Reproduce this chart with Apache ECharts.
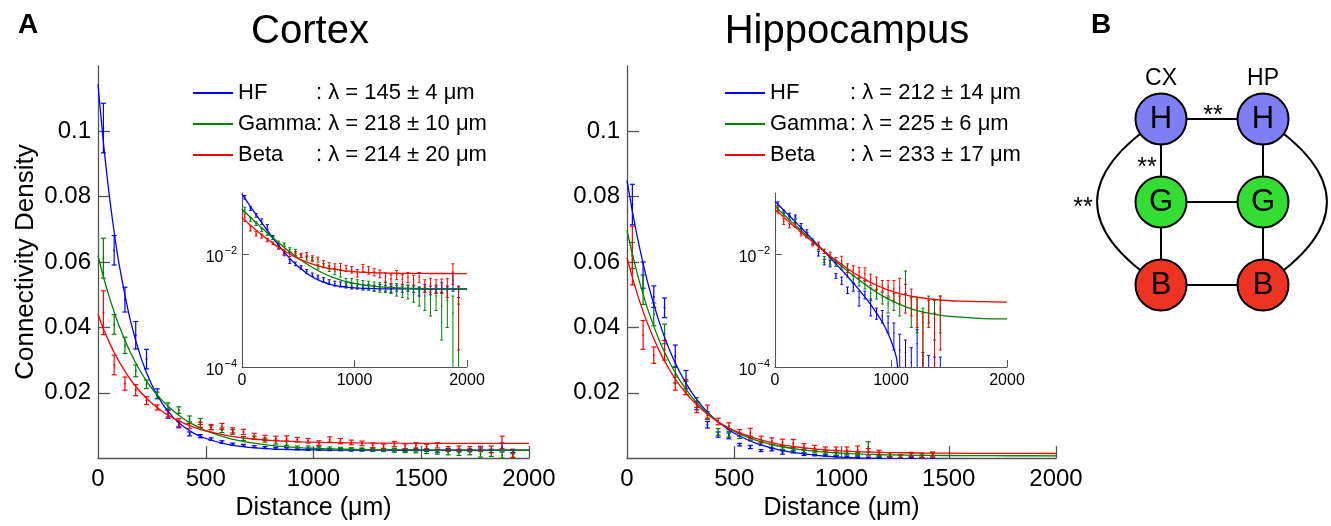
<!DOCTYPE html>
<html>
<head>
<meta charset="utf-8">
<script src="https://cdn.jsdelivr.net/npm/echarts@6/dist/echarts.min.js"></script>
<style>html,body{margin:0;padding:0;background:#fff}#chart{width:1331px;height:526px}</style>
</head>
<body>
<div id="chart"></div>
<script>
// ---- data ----
var names = ['HF', 'Gamma', 'Beta'];
var cxLambda = [145, 218, 214], cxLambdaErr = [4, 10, 20];
var hpLambda = [212, 225, 233], hpLambdaErr = [14, 6, 17];

// fitted curves (sampled)
var fitX = [0, 25, 50, 75, 100, 150, 200, 250, 300, 350, 400, 450, 500, 600, 700, 800, 900, 950, 1000, 1050, 1100, 1200, 1400, 1600, 1800, 2000];
var cxFitHF = [.1144, .0967, .0817, .0692, .0586, .0422, .0306, .0224, .0165, .0124, .0095, .0074, .0060, .0042, .0033, .00285, .00263, .00256, .00251, .00248, .00246, .00243, .00241, .0024, .0024, .0024];
var cxFitGamma = [.0620, .0555, .0498, .0447, .0401, .0324, .0262, .0213, .0175, .0144, .0119, .0100, .0084, .0062, .0048, .0039, .00336, .00316, .00301, .00288, .00278, .00264, .0025, .00244, .00242, .0024];
var cxFitBeta = [.0440, .0396, .0358, .0323, .0293, .0241, .0200, .0168, .0142, .0122, .0106, .0093, .0083, .0069, .0060, .00544, .00509, .00497, .00487, .00479, .00473, .00465, .00456, .00452, .00451, .0045];
var hpFitHF = [.0850, .0755, .0671, .0596, .0529, .0417, .0328, .0258, .0203, .0159, .0125, .0098, .0076, .00457, .00268, .00149, .000755, .0005, .000294, .000134, .000007, -.00017, -.00035, -.00043, -.00046, -.00047];
var hpFitGamma = [.0697, .0624, .0559, .0501, .0449, .0361, .0291, .0234, .0189, .0153, .0124, .0100, .0082, .0055, .00378, .00267, .00196, .00171, .00151, .00135, .00122, .00103, .00084, .00076, .00072, .00071];
var hpFitBeta = [.0614, .0553, .0498, .0449, .0405, .0329, .0268, .0219, .0180, .0148, .0122, .0101, .0084, .0060, .00437, .00334, .00266, .00242, .00222, .00206, .00193, .00175, .00155, .00146, .00143, .00141];

// binned data (mean, error)
var cxBins = [25, 75, 125, 175, 225, 275, 325, 375, 425, 475, 525, 575, 625, 675, 725, 775, 825, 875, 925, 975, 1025, 1075, 1125, 1175, 1225, 1275, 1325, 1375, 1425, 1475, 1525, 1575, 1625, 1675, 1725, 1775, 1825, 1875, 1925];
var cxHF = [.101, .0636, .0485, .0376, .0303, .0197, .0136, .0103, .0074, .0067, .0058, .0049, .0043, .0039, .0035, .0032, .0030, .0029, .0028, .0027, .0027, .0026, .0026, .0025, .0026, .0025, .0024, .0025, .0024, .0025, .0024, .0022, .0025, .0023, .0024, .0026, .0022, .0034, .0022];
var cxHFErr = [.0076, .0045, .0038, .0042, .0030, .0015, .0014, .0010, .0006, .0005, .0004, .0004, .0003, .0003, .0003, .0003, .0003, .0003, .0003, .0003, .0003, .0003, .0003, .0003, .0003, .0003, .0003, .0003, .0003, .0003, .0003, .0004, .0004, .0004, .0004, .0005, .0005, .0012, .0005];
var cxGamma = [.0612, .0409, .0345, .0267, .0226, .0192, .0157, .0147, .0120, .0112, .0093, .0085, .0080, .0060, .0062, .0055, .0049, .0045, .0032, .0031, .0030, .0029, .0028, .0027, .0026, .0026, .0025, .0024, .0023, .0022, .0021, .0019, .0018, .0016, .0018, .0012, .0015, .0009, .0006];
var cxGammaErr = [.0061, .0030, .0025, .0018, .0013, .0010, .0012, .0010, .0009, .0009, .0006, .0007, .0007, .0006, .0005, .0006, .0006, .0006, .0005, .0006, .0005, .0005, .0005, .0005, .0005, .0005, .0005, .0006, .0006, .0006, .0007, .0007, .0008, .0008, .0008, .0009, .0010, .0009, .0007];
var cxBeta = [.0445, .0285, .0228, .0208, .0176, .0155, .0136, .0109, .0098, .0102, .0095, .0097, .0085, .0080, .0067, .0062, .0060, .0060, .0056, .0053, .0046, .0057, .0052, .0048, .0045, .0039, .0036, .0043, .0036, .0039, .0035, .0039, .0028, .0029, .0028, .0028, .0027, .0048, .0014];
var cxBetaErr = [.0067, .0030, .0020, .0017, .0012, .0008, .0010, .0012, .0008, .0008, .0008, .0009, .0008, .0008, .0009, .0008, .0007, .0008, .0007, .0007, .0007, .0008, .0008, .0007, .0007, .0007, .0007, .0008, .0007, .0008, .0007, .0008, .0007, .0008, .0007, .0008, .0010, .0019, .0012];

var hpBins = [25, 75, 125, 175, 225, 275, 325, 375, 425, 475, 525, 575, 625, 675, 725, 775, 825, 875, 925, 975, 1025, 1075, 1125, 1175, 1225, 1275, 1325, 1375, 1425];
var hpHF = [.0776, .0560, .0494, .0460, .0312, .0240, .0160, .0102, .0072, .0068, .0041, .0034, .0023, .0026, .0017, .0019, .0012, .0009, .0008, .0006, .0004, .0002, .00018, .00012, .00026, .00008, .00006, .00005, .0001];
var hpHFErr = [.0062, .0040, .0033, .0030, .0034, .0028, .0012, .0010, .0008, .0009, .0004, .0005, .0003, .0004, .0005, .0003, .0004, .0002, .0002, .0002, .0002, .00018, .00012, .0001, .0002, .0001, .0001, .0001, .00005];
var hpGamma = [.0620, .0515, .0440, .0380, .0255, .0215, .0170, .0130, .0080, .0073, .0068, .0060, .0045, .0036, .0032, .0029, .0020, .0020, .0017, .0013, .0015, .0013, .0035, .0011, .0010, .0006, .0012, .0009, .0011];
var hpGammaErr = [.0040, .0045, .0035, .0030, .0025, .0020, .0015, .0012, .0010, .0009, .0008, .0007, .0006, .0005, .0005, .0005, .0005, .0004, .0004, .0004, .0005, .0005, .0015, .0006, .0006, .0005, .0006, .0006, .0007];
var hpBeta = [.0620, .0377, .0315, .0330, .0228, .0217, .0156, .0142, .0112, .0098, .0077, .0075, .0057, .0052, .0048, .0045, .0036, .0031, .0028, .0026, .0024, .0025, .0019, .0016, .0011, .0004, .0010, .0004, .0010];
var hpBetaErr = [.0090, .0044, .0025, .0030, .0020, .0023, .0017, .0020, .0010, .0010, .0010, .0016, .0010, .0010, .0010, .0012, .0008, .0008, .0006, .0008, .0010, .0012, .0010, .0008, .0006, .0005, .0005, .0005, .0008];

// panel B network
var nodeLabels = ['H', 'H', 'G', 'G', 'B', 'B'];
var nodeCols = [0, 1, 0, 1, 0, 1];
var nodeRows = [0, 0, 1, 1, 2, 2];
var nodeColors = ['#7f7ff5', '#7f7ff5', '#33dd33', '#33dd33', '#ef3322', '#ef3322'];
var linkSource = [0, 0, 2, 1, 3, 2, 4, 0, 1];
var linkTarget = [1, 2, 4, 3, 5, 3, 5, 4, 5];
var linkCurve = [0, 0, 0, 0, 0, 0, 0, -0.77, 0.77];

var colors = ['#0000ff', '#008000', '#ff0000'];
var FONT = '"Liberation Sans", Arial, Helvetica, sans-serif';
var AXIS = '#555';

function plain(v) { return String(v); }

function fitSeries(grid, fits, logAxis) {
    return fits.map(function (ys, k) {
        return {
            name: names[k], type: 'line', xAxisIndex: grid, yAxisIndex: grid,
            data: fitX.map(function (x, i) { return [x, (logAxis && ys[i] <= 0) ? '-' : ys[i]]; }),
            showSymbol: false, smooth: 0.3, silent: true, z: 3,
            lineStyle: {color: colors[k], width: 1.3},
            itemStyle: {color: colors[k]}
        };
    });
}

function barSeries(grid, bins, means, errs, cap, floor) {
    return means.map(function (m, k) {
        return {
            name: names[k], type: 'custom', xAxisIndex: grid, yAxisIndex: grid,
            data: bins.map(function (x, i) { return [x, m[i], errs[k][i]]; }),
            encode: {x: 0, y: 1}, silent: true, z: 2,
            itemStyle: {color: colors[k]},
            renderItem: function (params, api) {
                var x = api.value(0), v = api.value(1), e = api.value(2);
                var hi = v + e, lo = v - e, loCap = true;
                if (floor) {
                    if (hi <= floor) return null;
                    if (lo <= floor) { lo = floor; loCap = false; }
                }
                var pH = api.coord([x, hi]), pL = api.coord([x, lo]);
                var st = {stroke: colors[k], lineWidth: floor ? 1 : 1.2};
                var kids = [
                    {type: 'line', shape: {x1: pH[0], y1: pH[1], x2: pL[0], y2: pL[1]}, style: st},
                    {type: 'line', shape: {x1: pH[0] - cap, y1: pH[1], x2: pH[0] + cap, y2: pH[1]}, style: st}
                ];
                if (loCap) kids.push({type: 'line', shape: {x1: pL[0] - cap, y1: pL[1], x2: pL[0] + cap, y2: pL[1]}, style: st});
                if (!floor || v > floor) {
                    var pM = api.coord([x, v]);
                    kids.push({type: 'circle', shape: {cx: pM[0], cy: pM[1], r: floor ? 0.8 : 1}, style: {fill: colors[k]}});
                }
                return {type: 'group', children: kids};
            }
        };
    });
}

function mainX(grid) {
    return {
        gridIndex: grid, type: 'value', min: 0, max: 2000, interval: 500,
        name: 'Distance (μm)', nameLocation: 'middle', nameGap: 32,
        nameTextStyle: {fontSize: 25, color: '#000', fontFamily: FONT},
        axisLine: {lineStyle: {color: AXIS, width: 1.3}},
        axisTick: {inside: true, length: 12, lineStyle: {color: AXIS, width: 1.3}, customValues: [500, 1000, 1500, 2000]},
        axisLabel: {fontSize: 24, color: '#000', margin: 9, fontFamily: FONT, formatter: plain},
        splitLine: {show: false}
    };
}
function mainY(grid, withName) {
    var ax = {
        gridIndex: grid, type: 'value', min: 0, max: 0.12, interval: 0.02,
        axisLine: {show: true, lineStyle: {color: AXIS, width: 1.3}},
        axisTick: {show: true, inside: true, length: 12, lineStyle: {color: AXIS, width: 1.3}, customValues: [0.02, 0.04, 0.06, 0.08, 0.1]},
        axisLabel: {fontSize: 24, color: '#000', margin: 7, fontFamily: FONT, customValues: [0.02, 0.04, 0.06, 0.08, 0.1],
            formatter: function (v) { return String(Math.round(v * 100) / 100); }},
        splitLine: {show: false}
    };
    if (withName) {
        ax.name = 'Connectivity Density';
        ax.nameLocation = 'middle';
        ax.nameGap = 59;
        ax.nameTextStyle = {fontSize: 26, color: '#000', fontFamily: FONT};
    }
    return ax;
}
function insetX(grid) {
    return {
        gridIndex: grid, type: 'value', min: 0, max: 2000, interval: 1000,
        axisLine: {lineStyle: {color: AXIS, width: 1.1}},
        axisTick: {inside: true, length: 7, lineStyle: {color: AXIS}, customValues: [1000, 2000]},
        axisLabel: {fontSize: 16, color: '#000', margin: 6, fontFamily: FONT, formatter: plain},
        splitLine: {show: false}
    };
}
function insetY(grid) {
    return {
        gridIndex: grid, type: 'log', logBase: 10, min: 0.0001, max: 0.12,
        axisLine: {show: true, lineStyle: {color: AXIS, width: 1.1}},
        axisTick: {show: true, inside: true, length: 7, lineStyle: {color: AXIS}, customValues: [0.0001, 0.01]},
        axisLabel: {margin: 5, customValues: [0.0001, 0.01],
            formatter: function (v) { return '{b|10}{s|−' + Math.abs(Math.round(Math.log10(v))) + '}'; },
            rich: {
                b: {fontSize: 16, color: '#000', fontFamily: FONT, padding: [7, 0, 0, 0]},
                s: {fontSize: 11, color: '#000', fontFamily: FONT, padding: [0, 0, 7, 1]}
            }},
        splitLine: {show: false}
    };
}
function legendFor(left, nameWidth, lam, lamErr) {
    return {
        data: names, orient: 'vertical', left: left, top: 81, padding: 0,
        itemWidth: 40, itemHeight: 2, icon: 'rect', itemGap: 7, selectedMode: false,
        formatter: function (name) {
            var i = names.indexOf(name);
            return '{n|' + name + '}{v|: λ = ' + lam[i] + ' ± ' + lamErr[i] + ' μm}';
        },
        textStyle: {fontSize: 22, lineHeight: 24, color: '#000', fontFamily: FONT,
            rich: {n: {width: nameWidth, fontSize: 22, lineHeight: 24, fontFamily: FONT},
                   v: {fontSize: 22, lineHeight: 24, fontFamily: FONT}}}
    };
}
function label(text, x, y, size, bold) {
    return {type: 'text', x: x, y: y, silent: true,
        style: {text: text, align: 'center', verticalAlign: 'middle', fill: '#000',
            font: (bold ? 'bold ' : '') + size + 'px ' + FONT}};
}

var chart = echarts.init(document.getElementById('chart'));

var series = []
    .concat(barSeries(0, cxBins, [cxHF, cxGamma, cxBeta], [cxHFErr, cxGammaErr, cxBetaErr], 2.5, 0))
    .concat(fitSeries(0, [cxFitHF, cxFitGamma, cxFitBeta], false))
    .concat(barSeries(1, hpBins, [hpHF, hpGamma, hpBeta], [hpHFErr, hpGammaErr, hpBetaErr], 2.5, 0))
    .concat(fitSeries(1, [hpFitHF, hpFitGamma, hpFitBeta], false))
    .concat(barSeries(2, cxBins, [cxHF, cxGamma, cxBeta], [cxHFErr, cxGammaErr, cxBetaErr], 1.5, 0.0001))
    .concat(fitSeries(2, [cxFitHF, cxFitGamma, cxFitBeta], true))
    .concat(barSeries(3, hpBins, [hpHF, hpGamma, hpBeta], [hpHFErr, hpGammaErr, hpBetaErr], 1.5, 0.0001))
    .concat(fitSeries(3, [hpFitHF, hpFitGamma, hpFitBeta], true));

series.push({
    name: 'network', type: 'graph', coordinateSystem: 'cartesian2d', xAxisIndex: 4, yAxisIndex: 4,
    layout: 'none', symbol: 'circle', symbolSize: 51, silent: true, z: 5,
    data: nodeLabels.map(function (l, i) {
        return {name: 'n' + i, value: [nodeCols[i], nodeRows[i]],
            itemStyle: {color: nodeColors[i], borderColor: '#000', borderWidth: 2},
            label: {show: true, formatter: l}};
    }),
    links: linkSource.map(function (s, i) {
        return {source: s, target: linkTarget[i], lineStyle: {curveness: linkCurve[i]}};
    }),
    label: {show: true, position: 'inside', fontSize: 31, color: '#000', fontFamily: FONT},
    lineStyle: {color: '#000', width: 2, opacity: 1}
});

chart.setOption({
    animation: false,
    backgroundColor: '#fff',
    textStyle: {fontFamily: FONT},
    grid: [
        {left: 98, top: 66, width: 431, height: 396},
        {left: 627, top: 66, width: 429, height: 396},
        {left: 242, top: 193, width: 225, height: 174},
        {left: 775, top: 193, width: 232, height: 174},
        {left: 1161, top: 119, width: 102, height: 166}
    ],
    xAxis: [mainX(0), mainX(1), insetX(2), insetX(3),
        {gridIndex: 4, type: 'value', min: 0, max: 1, show: false}],
    yAxis: [mainY(0, true), mainY(1, false), insetY(2), insetY(3),
        {gridIndex: 4, type: 'value', min: 0, max: 2, inverse: true, show: false}],
    legend: [legendFor(193, 78, cxLambda, cxLambdaErr), legendFor(725, 80, hpLambda, hpLambdaErr)],
    graphic: [
        label('A', 28, 25, 28, true),
        label('B', 1101, 25, 28, true),
        label('Cortex', 310, 32, 40),
        label('Hippocampus', 847, 32, 40),
        label('CX', 1161, 79, 23),
        label('HP', 1263, 79, 23),
        label('**', 1213, 116, 25),
        label('**', 1147, 168, 25),
        label('**', 1083, 208, 25)
    ],
    series: series
});
</script>
</body>
</html>
